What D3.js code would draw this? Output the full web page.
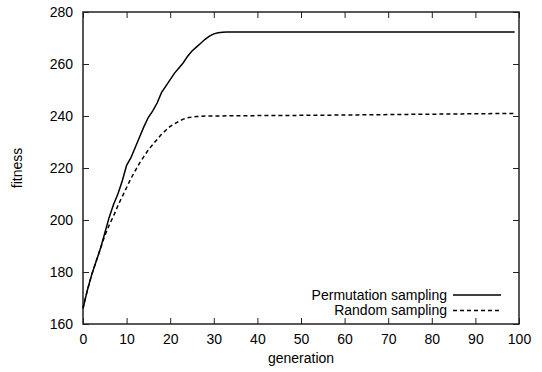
<!DOCTYPE html>
<html>
<head>
<meta charset="utf-8">
<script src="https://cdn.jsdelivr.net/npm/d3@7"></script>
<style>
  body { margin: 0; background: #fff; }
  text { font-family: "Liberation Sans", Arial, sans-serif; }
</style>
</head>
<body>
<script>
// fitness per generation (index = generation)
const permutation = [
  166, 173, 179, 184, 189, 195, 201, 206, 210, 215,
  221, 224, 228, 232, 236, 239.5, 242, 245, 249, 251.5,
  254, 256.5, 258.5, 260.5, 263, 265, 266.5, 268, 269.5, 270.7,
  271.6, 272, 272.2, 272.3, 272.3, 272.3, 272.3, 272.3, 272.3, 272.3,
  272.3, 272.3, 272.3, 272.3, 272.3, 272.3, 272.3, 272.3, 272.3, 272.3,
  272.3, 272.3, 272.3, 272.3, 272.3, 272.3, 272.3, 272.3, 272.3, 272.3,
  272.3, 272.3, 272.3, 272.3, 272.3, 272.3, 272.3, 272.3, 272.3, 272.3,
  272.3, 272.3, 272.3, 272.3, 272.3, 272.3, 272.3, 272.3, 272.3, 272.3,
  272.3, 272.3, 272.3, 272.3, 272.3, 272.3, 272.3, 272.3, 272.3, 272.3,
  272.3, 272.3, 272.3, 272.3, 272.3, 272.3, 272.3, 272.3, 272.3, 272.3
];
const random = [
  166, 173, 179, 184, 189, 194, 198, 201.5, 205.5, 209,
  212.5, 216, 219, 222, 224.5, 227, 229, 231, 233, 234.5,
  236, 237, 238, 238.8, 239.3, 239.6, 239.8, 239.9, 240, 240,
  240, 240, 240, 240.1, 240.1, 240.1, 240.1, 240.1, 240.1, 240.1,
  240.2, 240.2, 240.2, 240.2, 240.2, 240.2, 240.2, 240.2, 240.2, 240.2,
  240.3, 240.3, 240.3, 240.3, 240.3, 240.3, 240.3, 240.3, 240.4, 240.4,
  240.4, 240.4, 240.4, 240.4, 240.5, 240.5, 240.5, 240.5, 240.5, 240.5,
  240.6, 240.6, 240.6, 240.6, 240.6, 240.6, 240.7, 240.7, 240.7, 240.7,
  240.7, 240.7, 240.8, 240.8, 240.8, 240.8, 240.8, 240.8, 240.9, 240.9,
  240.9, 240.9, 240.9, 240.9, 241, 241, 241, 241, 241, 241
];
const xTicks = [0, 10, 20, 30, 40, 50, 60, 70, 80, 90, 100];
const yTicks = [160, 180, 200, 220, 240, 260, 280];
const seriesNames = ["Permutation sampling", "Random sampling"];

const width = 542, height = 372;
const margin = {top: 12, right: 23, bottom: 48, left: 83};
const w = width - margin.left - margin.right,
      h = height - margin.top - margin.bottom;

const svg = d3.select("body").append("svg")
    .attr("width", width)
    .attr("height", height);

const g = svg.append("g")
    .attr("transform", "translate(" + margin.left + "," + margin.top + ")");

const x = d3.scaleLinear().domain([0, 100]).range([0, w]);
const y = d3.scaleLinear().domain([160, 280]).range([h, 0]);

const tick = 6;

// bottom + top axes, ticks pointing inward
g.append("g")
    .attr("transform", "translate(0," + h + ")")
    .call(d3.axisBottom(x).tickValues(xTicks).tickSize(-tick).tickPadding(10))
    .call(a => a.select(".domain").remove());
g.append("g")
    .call(d3.axisTop(x).tickValues(xTicks).tickSize(-tick).tickFormat(""))
    .call(a => a.select(".domain").remove());

// left + right axes
g.append("g")
    .call(d3.axisLeft(y).tickValues(yTicks).tickSize(-tick).tickPadding(10))
    .call(a => a.select(".domain").remove());
g.append("g")
    .attr("transform", "translate(" + w + ",0)")
    .call(d3.axisRight(y).tickValues(yTicks).tickSize(-tick).tickFormat(""))
    .call(a => a.select(".domain").remove());

g.selectAll(".tick line").attr("stroke", "#222").attr("stroke-width", 1);
g.selectAll(".tick text")
    .attr("font-size", 14)
    .attr("fill", "#000")
    .attr("font-family", "Liberation Sans, Arial, sans-serif");

// frame
g.append("rect")
    .attr("width", w)
    .attr("height", h)
    .attr("fill", "none")
    .attr("stroke", "#222")
    .attr("stroke-width", 1.5);

const line = d3.line()
    .x((d, i) => x(i))
    .y(d => y(d));

g.append("path")
    .datum(permutation)
    .attr("fill", "none")
    .attr("stroke", "#000")
    .attr("stroke-width", 1.5)
    .attr("d", line);

g.append("path")
    .datum(random)
    .attr("fill", "none")
    .attr("stroke", "#000")
    .attr("stroke-width", 1.5)
    .attr("stroke-dasharray", "4,3")
    .attr("d", line);

// legend
const legend = g.selectAll(".legend")
    .data(seriesNames)
    .enter().append("g")
    .attr("class", "legend")
    .attr("transform", (d, i) => "translate(0," + (283 + i * 15.5) + ")");

legend.append("text")
    .attr("x", 364)
    .attr("dy", "0.35em")
    .attr("text-anchor", "end")
    .attr("font-size", 14)
    .text(d => d);

legend.append("line")
    .attr("x1", 370)
    .attr("x2", 418)
    .attr("stroke", "#000")
    .attr("stroke-width", 1.5)
    .attr("stroke-dasharray", (d, i) => i === 0 ? null : "4,3");

// axis titles
svg.append("text")
    .attr("x", margin.left + w / 2)
    .attr("y", 363)
    .attr("text-anchor", "middle")
    .attr("font-size", 14)
    .text("generation");

svg.append("text")
    .attr("transform", "translate(22," + (margin.top + h / 2) + ") rotate(-90)")
    .attr("text-anchor", "middle")
    .attr("font-size", 14)
    .text("fitness");
</script>
</body>
</html>
